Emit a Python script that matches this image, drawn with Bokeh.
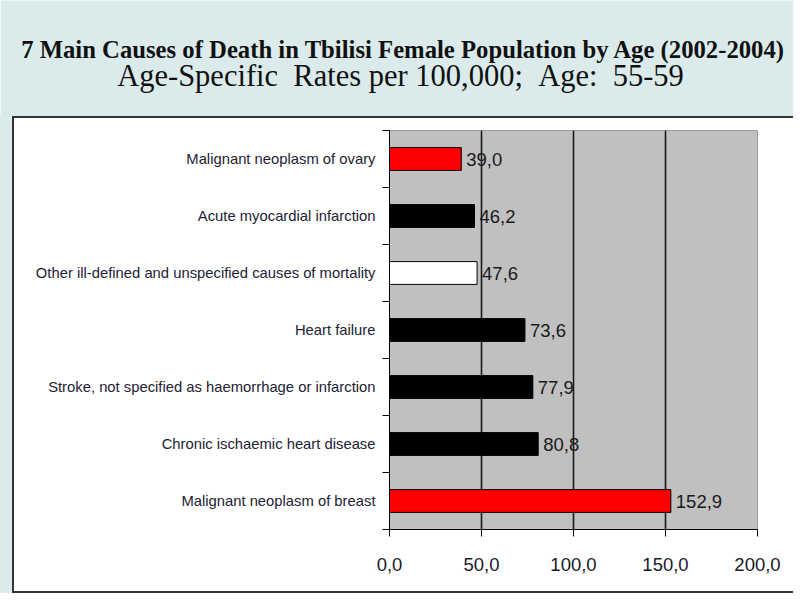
from bokeh.plotting import figure
from bokeh.layouts import column, row
from bokeh.models import ColumnDataSource, FixedTicker, Range1d, Label, LabelSet, Spacer
from bokeh.core.properties import value
from bokeh.embed import file_html
from bokeh.resources import INLINE

# ---- data (bottom to top) ----
causes = [
    "Malignant neoplasm of breast",
    "Chronic ischaemic heart disease",
    "Stroke, not specified as haemorrhage or infarction",
    "Heart failure",
    "Other ill-defined and unspecified causes of mortality",
    "Acute myocardial infarction",
    "Malignant neoplasm of ovary",
]
rates = [152.9, 80.8, 77.9, 73.6, 47.6, 46.2, 39.0]
bar_colors = ["#ff0000", "#000000", "#000000", "#000000", "#ffffff", "#000000", "#ff0000"]
x_ticks = [0, 50, 100, 150, 200]
x_tick_labels = ["0,0", "50,0", "100,0", "150,0", "200,0"]
grid_ticks = [50, 100, 150]
title_line1 = "7 Main Causes of Death in Tbilisi Female Population by Age (2002-2004)"
title_line2 = "Age-Specific \u00a0Rates per 100,000; \u00a0Age: \u00a055-59"

BLUE = "#dbebeb"
DARK = "#333333"
W, H = 793, 593
TOP_H = 116      # blue title band
LEFT_W = 12      # blue strip left of the white panel
BW = 2           # panel border width
CW = W - LEFT_W - BW
CH = H - TOP_H - 2 * BW

# ---- title band ----
t = figure(width=W, height=TOP_H, output_backend="svg", toolbar_location=None,
           x_range=Range1d(0, W), y_range=Range1d(TOP_H, 0),
           x_axis_type=None, y_axis_type=None, min_border=0)
t.border_fill_color = BLUE
t.background_fill_color = BLUE
t.outline_line_color = None
t.grid.grid_line_color = None
t.add_layout(Label(x=403, y=49, text=title_line1, text_align="center",
                   text_baseline="alphabetic", text_font="Liberation Serif",
                   text_font_style="bold", text_font_size="24.7px", text_color="#111111"))
t.add_layout(Label(x=400, y=75, text=title_line2, text_align="center",
                   text_baseline="alphabetic", text_font="Liberation Serif",
                   text_font_size="30.5px", text_color="#111111"))

# ---- chart ----
pos = [i + 0.5 for i in range(len(causes))]
value_text = [f"{v:.1f}".replace(".", ",") for v in rates]
src = ColumnDataSource(dict(y=pos, x=rates, color=bar_colors, label=value_text))

p = figure(width=CW, height=CH, output_backend="svg", toolbar_location=None,
           x_range=Range1d(0, 200), y_range=Range1d(0, len(causes)),
           min_border_left=375, min_border_right=36, min_border_top=12, min_border_bottom=62)
p.border_fill_color = "white"
p.background_fill_color = "#c0c0c0"
p.outline_line_color = "#9a9a9a"

p.hbar(y="y", right="x", left=0, height=0.4, fill_color="color",
       line_color="black", line_width=1, source=src)

p.add_layout(LabelSet(x="x", y="y", text="label", source=src, x_offset=5, y_offset=0,
                      text_baseline="middle", text_font=value("Liberation Sans"),
                      text_font_size="18.5px", text_color="#1a1a1a"))

p.xaxis.ticker = FixedTicker(ticks=x_ticks)
p.xaxis.major_label_overrides = {tk: lb for tk, lb in zip(x_ticks, x_tick_labels)}
p.xaxis.major_label_text_font = "Liberation Sans"
p.xaxis.major_label_text_font_size = "18.5px"
p.xaxis.major_label_text_color = "#1a1a2a"
p.xaxis.major_label_standoff = 21
p.xaxis.major_tick_in = 0
p.xaxis.major_tick_out = 7
p.xaxis.minor_tick_line_color = None
p.xaxis.axis_line_color = "black"
p.xaxis.major_tick_line_color = "black"

p.yaxis.ticker = FixedTicker(ticks=pos, minor_ticks=list(range(len(causes) + 1)))
p.yaxis.major_label_overrides = {tk: c for tk, c in zip(pos, causes)}
p.yaxis.major_label_text_font = "Liberation Sans"
p.yaxis.major_label_text_font_size = "14.8px"
p.yaxis.major_label_text_color = "#222233"
p.yaxis.major_label_standoff = 7
p.yaxis.major_tick_in = 0
p.yaxis.major_tick_out = 0
p.yaxis.minor_tick_in = 0
p.yaxis.minor_tick_out = 7
p.yaxis.minor_tick_line_color = "black"
p.yaxis.axis_line_color = "black"

p.xgrid.ticker = FixedTicker(ticks=grid_ticks)
p.xgrid.grid_line_color = "#1a1a1a"
p.xgrid.grid_line_width = 1.6
p.ygrid.grid_line_color = None

def block(w, h, color):
    return Spacer(width=w, height=h, styles={"background-color": color})

panel = column(block(CW + BW, BW, DARK),
               row(block(BW, CH, DARK), p),
               block(CW + BW, BW, DARK))
layout = column(t, row(block(LEFT_W, CH + 2 * BW, BLUE), panel))

open("out.html", "w").write(file_html(layout, INLINE))
